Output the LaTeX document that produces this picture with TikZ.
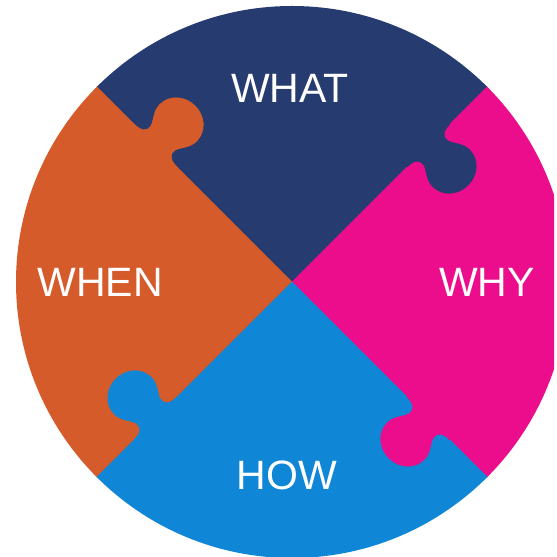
\documentclass[tikz,border=0pt]{standalone}
\usepackage{fontspec}
\setmainfont{Liberation Sans}
\definecolor{whatc}{HTML}{263B70}
\definecolor{whenc}{HTML}{D55B2B}
\definecolor{whyc}{HTML}{EB0D8C}
\definecolor{howc}{HTML}{1086D6}
\begin{document}
\begin{tikzpicture}[x=1pt,y=1pt,
  piece/.style={fill=#1,draw=#1,line width=0.6pt,line join=round},
  word/.style={text=white,font=\fontsize{41}{49}\selectfont,inner sep=0pt,anchor=base}]
\useasboundingbox (0,0) rectangle (557,557);
\coordinate (c) at (292,275);
\begin{scope}
  \clip (0,0) rectangle (554,557);
  \clip (c) circle (276);
  % the four quarters
  \path[piece=whatc] (c) -- ++(-400,400) -- ++(800,0) -- cycle;
  \path[piece=whenc] (c) -- ++(-400,400) -- ++(0,-800) -- cycle;
  \path[piece=whyc]  (c) -- ++(400,400) -- ++(0,-800) -- cycle;
  \path[piece=howc]  (c) -- ++(-400,-400) -- ++(800,0) -- cycle;
  % puzzle tabs, one on each dividing line
  \foreach \ang/\col in {135/whenc,45/whatc,225/howc,315/whyc}{
    \path[piece=\col, shift={(c)}, rotate=\ang]
      (161,3) -- (163,0)
      .. controls (173,0) and (177,-4) .. (176,-10)
      .. controls (175,-16) and (167,-22) .. (167,-32)
      .. controls (167,-46) and (179,-56) .. (193,-56)
      .. controls (207,-56) and (219,-46) .. (219,-32)
      .. controls (219,-22) and (211,-16) .. (210,-10)
      .. controls (209,-4) and (213,0) .. (223,0)
      -- (225,3) -- cycle;
  }
\end{scope}
\node[word] (what) at (290,454) {WHAT};
\node[word] (when) at (100,260) {WHEN};
\node[word] (why)  at (487,260) {WHY};
\node[word] (how)  at (287,67)  {HOW};
\end{tikzpicture}
\end{document}
